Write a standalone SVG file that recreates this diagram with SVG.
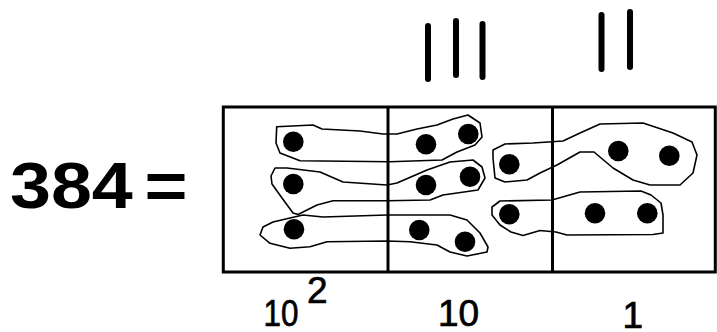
<svg xmlns="http://www.w3.org/2000/svg" width="717" height="332" viewBox="0 0 717 332">
<style>
.frame{fill:none;stroke:#000;stroke-width:3}
.div{stroke:#000;stroke-width:3}
.loop{fill:none;stroke:#000;stroke-width:1.6;stroke-linejoin:round}
.dot{fill:#000}
.tally{stroke:#000;stroke-width:6;stroke-linecap:round}
.eq{font-family:"Liberation Sans",Arial,sans-serif;font-weight:bold;font-size:64px;fill:#000}
.lbl{font-family:"Liberation Sans",Arial,sans-serif;font-size:37px;fill:#000;stroke:#000;stroke-width:0.7}
</style>
<rect width="717" height="332" fill="#fff"/>
<g id="equation">
<text class="eq" transform="translate(10,208) scale(1.15,1)">384</text>
<text class="eq" transform="translate(10,208) scale(1.15,1)" x="117">=</text>
</g>
<g id="tallies-tens">
<line class="tally" x1="428" y1="26" x2="428" y2="79"/>
<line class="tally" x1="456" y1="21" x2="456" y2="75"/>
<line class="tally" x1="482.5" y1="24" x2="482.5" y2="77"/>
</g>
<g id="tallies-ones">
<line class="tally" x1="601.5" y1="15" x2="601.5" y2="69"/>
<line class="tally" x1="630" y1="12" x2="630" y2="67"/>
</g>
<g id="place-value-chart">
<rect class="frame" x="223.3" y="107" width="492" height="165"/>
<line class="div" x1="388" y1="107" x2="388" y2="272"/>
<line class="div" x1="552.5" y1="107" x2="552.5" y2="272"/>
</g>
<g id="connectors">
<path class="loop" d="M276.7,126.7 L313,125 L322,129 L360,131 L383,134 L397,134 L417,129 L437,125 L453,119 L468,115 L480,123 L482,137 L475,145 L457,152 L442,160 L390,161.7 L300,160.7 L280,153 L276,143 Z"/>
<path class="loop" d="M275,168 L287,168 L320,172 L343,182 L387,185 L397,183 L427,170 L450,162 L473,160 L482,167 L485,178 L478,190 L443,195 L430,200 L387,200.7 L333,200.7 L317,205 L298,214.5 L293,213 L282,198 L272,184 L271,176 Z"/>
<path class="loop" d="M260,235 L263,227 L273,222 L290,218 L303,215 L323,217 L387,215 L450,215 L467,220 L480,233 L488,247 L487,252 L467,256 L450,252 L437,245 L410,241.7 L387,241 L327,241.7 L310,246.7 L290,248.3 L270,243.3 Z"/>
<path class="loop" d="M493,150 L505,144 L533,143 L563,141 L580,133 L600,124 L643,123 L673,133 L692,142 L697,155 L693,173 L680,185 L650,185 L633,180 L613,168 L594,152 L580,152 L557,165 L540,173 L527,180 L505,182 L495,178 L493,158 Z"/>
<path class="loop" d="M492,207 L500,201 L552,200 L580,192 L641,191 L651,195 L661,203 L663,215 L663,233 L653,234.5 L567,235 L556,232 L540,230.5 L523,235.5 L511,232 L500,225 L492,215 Z"/>
</g>
<g id="dots">
<circle class="dot" cx="293.3" cy="141.7" r="10.3"/>
<circle class="dot" cx="293.3" cy="184" r="10.3"/>
<circle class="dot" cx="294" cy="229.3" r="10.3"/>
<circle class="dot" cx="426" cy="144.3" r="10.3"/>
<circle class="dot" cx="468.3" cy="134" r="10.3"/>
<circle class="dot" cx="426" cy="185" r="10.3"/>
<circle class="dot" cx="470" cy="176.7" r="10.3"/>
<circle class="dot" cx="419.3" cy="230" r="10.3"/>
<circle class="dot" cx="465" cy="241.7" r="10.3"/>
<circle class="dot" cx="509.3" cy="164.3" r="10.3"/>
<circle class="dot" cx="618.3" cy="151" r="10.3"/>
<circle class="dot" cx="669.3" cy="155.7" r="10.3"/>
<circle class="dot" cx="509.3" cy="214.3" r="10.3"/>
<circle class="dot" cx="595" cy="213.3" r="10.3"/>
<circle class="dot" cx="647.3" cy="213.3" r="10.3"/>
</g>
<g id="label-hundreds">
<text class="lbl" transform="translate(263.5,326) scale(0.85,1)">10</text>
<text class="lbl" x="307" y="303" font-size="33">2</text>
</g>
<g id="label-tens">
<text class="lbl" x="438" y="326">10</text>
</g>
<g id="label-ones">
<text class="lbl" x="622.5" y="328" font-size="39">1</text>
</g>
</svg>
